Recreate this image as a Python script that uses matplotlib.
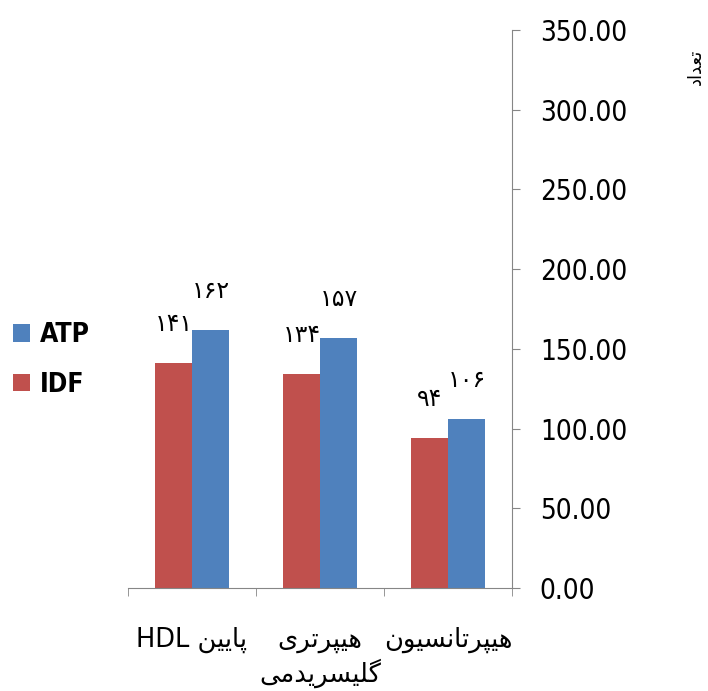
import matplotlib.pyplot as plt
from matplotlib.ticker import FixedLocator, FormatStrFormatter

# Arabic/Persian text is written in visual order with presentation forms,
# since matplotlib does no shaping or bidi itself.
categories = [
    "HDL " + "\uFEE6\uFBFF\uFBFE\uFE8E\uFB58",                     # پایین HDL
    "\uFBFC\uFEAE\uFE97\uFEAE\uFB59\uFBFF\uFEEB\n"
    "\uFBFD\uFEE3\uFEAA\uFBFE\uFEAE\uFEB4\uFBFF\uFEE0\uFB94",        # هیپرتری گلیسریدمی
    "\uFEE5\uFEEE\uFBFF\uFEB4\uFEE7\uFE8E\uFE97\uFEAE\uFB59\uFBFF\uFEEB",  # هیپرتانسیون
]
idf = [141, 134, 94]
atp = [162, 157, 106]
ylabel = "\uFEA9\uFE8D\uFEAA\uFECC\uFE97"  # تعداد

RED = "#C0504D"
BLUE = "#4F81BD"
AXIS = "#868686"
ARABIC = ["DejaVu Sans"]

fa_digits = str.maketrans("0123456789", "۰۱۲۳۴۵۶۷۸۹")


def fa(n):
    return str(n).translate(fa_digits)


fig = plt.figure(figsize=(7.08, 6.91), dpi=100)
ax = fig.add_axes([128 / 708, 1 - 588 / 691, 384 / 708, 558 / 691])

w = 0.29
x = range(len(categories))
b1 = ax.bar([i - w / 2 for i in x], idf, w, color=RED, label="IDF")
b2 = ax.bar([i + w / 2 for i in x], atp, w, color=BLUE, label="ATP")

for bars, vals in ((b1, idf), (b2, atp)):
    for r, v in zip(bars, vals):
        ax.annotate(fa(v), (r.get_x() + r.get_width() / 2, v),
                    xytext=(0, 28), textcoords="offset points",
                    ha="center", va="center", fontsize=17, family=ARABIC)

ax.set_xlim(-0.5, 2.5)
ax.set_ylim(0, 350)

for s in ("left", "top"):
    ax.spines[s].set_visible(False)
ax.spines["right"].set_color(AXIS)
ax.spines["bottom"].set_color(AXIS)

ax.yaxis.tick_right()
ax.yaxis.set_major_locator(FixedLocator(range(0, 351, 50)))
ax.yaxis.set_major_formatter(FormatStrFormatter("%.2f"))
ax.tick_params(axis="y", direction="out", length=6, color=AXIS, pad=14,
               labelsize=20)
for t in ax.get_yticklabels():
    t.set_fontstretch("condensed")

ax.set_xticks(list(x))
ax.set_xticklabels(categories, family=ARABIC, fontsize=18.5, linespacing=1.25)
ax.xaxis.set_minor_locator(FixedLocator([-0.5, 0.5, 1.5, 2.5]))
ax.tick_params(axis="x", which="major", length=0, pad=28)
ax.tick_params(axis="x", which="minor", direction="out", length=6, color=AXIS)

fig.text(0.983, 1 - 67 / 691, ylabel, rotation=90, ha="center", va="center",
         fontsize=13, family=ARABIC)

leg = fig.legend(handles=[b2, b1], labels=["ATP", "IDF"],
                 loc="center left", bbox_to_anchor=(-0.015, 1 - 360 / 691),
                 frameon=False, handlelength=0.65, handleheight=0.65,
                 handletextpad=0.35, labelspacing=0.9,
                 prop={"size": 19, "weight": "bold", "stretch": "condensed"})

fig.savefig("out.png", dpi=100)
